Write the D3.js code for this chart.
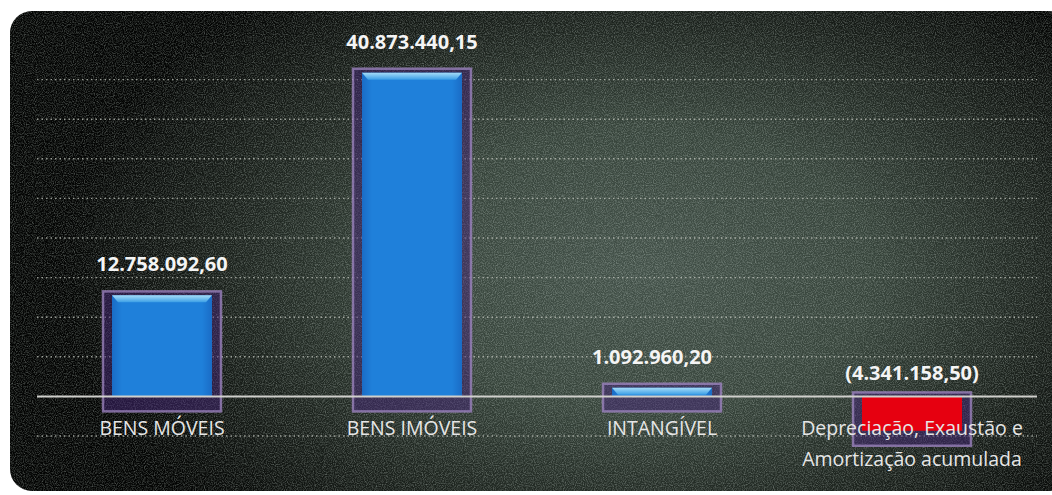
<!DOCTYPE html>
<html>
<head>
<meta charset="utf-8">
<script src="https://cdn.jsdelivr.net/npm/d3@7"></script>
<style>
  body { margin: 0; background: #fff; }
  text { font-family: "Open Sans", "Noto Sans", sans-serif; }
</style>
</head>
<body>
<div id="chart"></div>
<script>
// chart data
var categories = ["BENS MÓVEIS", "BENS IMÓVEIS", "INTANGÍVEL", "Depreciação, Exaustão e Amortização acumulada"];
var values = [12758092.60, 40873440.15, 1092960.20, -4341158.50];
var yTicks = [-5e6, 5e6, 10e6, 15e6, 20e6, 25e6, 30e6, 35e6, 40e6];

var width = 1052;
var height = 495;

var svg = d3.select("#chart")
    .append("svg")
    .attr("width", width)
    .attr("height", height);

var defs = svg.append("defs");

// background gradient, black at the edges, green-grey in the middle
var bg = defs.append("radialGradient")
    .attr("id", "bg")
    .attr("gradientUnits", "userSpaceOnUse")
    .attr("cx", 640).attr("cy", 270).attr("r", 580)
    .attr("gradientTransform", "translate(640,270) scale(1,0.62) translate(-640,-270)");
bg.append("stop").attr("offset", "0%").attr("stop-color", "#44524a");
bg.append("stop").attr("offset", "40%").attr("stop-color", "#37443b");
bg.append("stop").attr("offset", "72%").attr("stop-color", "#1a201b");
bg.append("stop").attr("offset", "100%").attr("stop-color", "#030403");

// grainy texture
var noise = defs.append("filter").attr("id", "noise")
    .attr("x", 0).attr("y", 0).attr("width", "100%").attr("height", "100%");
noise.append("feTurbulence")
    .attr("type", "fractalNoise")
    .attr("baseFrequency", 0.9)
    .attr("numOctaves", 2)
    .attr("seed", 3);
noise.append("feColorMatrix")
    .attr("type", "matrix")
    .attr("values", "0 0 0 0 0.68  0 0 0 0 0.78  0 0 0 0 0.72  0 0 0 1.3 -0.5");

var blue = defs.append("linearGradient").attr("id", "blue")
    .attr("x1", 0).attr("x2", 1).attr("y1", 0).attr("y2", 0);
blue.append("stop").attr("offset", "0%").attr("stop-color", "#1a6cc6");
blue.append("stop").attr("offset", "10%").attr("stop-color", "#1f80da");
blue.append("stop").attr("offset", "90%").attr("stop-color", "#1f80da");
blue.append("stop").attr("offset", "100%").attr("stop-color", "#1a6cc6");

var bevel = defs.append("linearGradient").attr("id", "bevel")
    .attr("x1", 0).attr("x2", 0).attr("y1", 0).attr("y2", 1);
bevel.append("stop").attr("offset", "0%").attr("stop-color", "#a6dcf7");
bevel.append("stop").attr("offset", "100%").attr("stop-color", "#3a9ee6");

defs.append("clipPath").attr("id", "panel")
    .append("rect")
    .attr("x", 10).attr("y", 11)
    .attr("width", 1060).attr("height", 480)
    .attr("rx", 22).attr("ry", 22);

svg.append("rect")
    .attr("x", 10).attr("y", 11)
    .attr("width", 1060).attr("height", 480)
    .attr("rx", 22).attr("ry", 22)
    .attr("fill", "url(#bg)");

svg.append("rect")
    .attr("x", 10).attr("y", 11)
    .attr("width", 1060).attr("height", 480)
    .attr("clip-path", "url(#panel)")
    .attr("filter", "url(#noise)")
    .attr("opacity", 0.55);

// scales
var x = d3.scaleBand()
    .domain(categories)
    .range([37, 1037])
    .paddingInner(0.6)
    .paddingOuter(0.3);

var y = d3.scaleLinear()
    .domain([-5e6, 45e6])
    .range([436, 40]);

// brazilian number format
var br = d3.formatLocale({ decimal: ",", thousands: ".", grouping: [3], currency: ["", ""] });
var fmt = br.format(",.2f");
function label(v) { return v < 0 ? "(" + fmt(-v) + ")" : fmt(v); }

// dotted gridlines
svg.append("g")
    .selectAll("line")
    .data(yTicks)
    .enter()
    .append("line")
    .attr("x1", 37).attr("x2", 1037)
    .attr("y1", function(d) { return y(d); })
    .attr("y2", function(d) { return y(d); })
    .attr("stroke", "#c4c8c0")
    .attr("stroke-width", 1.4)
    .attr("stroke-dasharray", "1.5,3")
    .attr("opacity", 0.75);

var bars = svg.append("g")
    .selectAll("g")
    .data(values)
    .enter()
    .append("g");

// translucent purple frame behind each bar
bars.append("rect")
    .attr("x", function(d, i) { return x(categories[i]) - 9; })
    .attr("width", x.bandwidth() + 18)
    .attr("y", function(d) { return Math.min(y(d), y(0)) - 4; })
    .attr("height", function(d) { return Math.abs(y(d) - y(0)) + 19; })
    .attr("fill", "rgba(70,40,120,0.5)")
    .attr("stroke", "rgba(160,135,195,0.75)")
    .attr("stroke-width", 2.5);

bars.append("rect")
    .attr("x", function(d, i) { return x(categories[i]); })
    .attr("width", x.bandwidth())
    .attr("y", function(d) { return Math.min(y(d), y(0)); })
    .attr("height", function(d) { return Math.abs(y(d) - y(0)); })
    .attr("fill", function(d) { return d < 0 ? "#e60010" : "url(#blue)"; });

// light bevel at the top of positive bars
bars.filter(function(d) { return d > 0; })
    .append("path")
    .attr("d", function(d) {
        var i = values.indexOf(d);
        var x0 = x(categories[i]), x1 = x0 + x.bandwidth();
        var t = y(d), b = Math.min(t + 7, y(0) - 1);
        return "M" + x0 + "," + t + "L" + x1 + "," + t + "L" + (x1 - 6) + "," + b + "L" + (x0 + 6) + "," + b + "Z";
    })
    .attr("fill", "url(#bevel)");

// zero line
svg.append("line")
    .attr("x1", 37).attr("x2", 1037)
    .attr("y1", y(0)).attr("y2", y(0))
    .attr("stroke", "#d0d0cc")
    .attr("stroke-width", 2);

// value labels
bars.append("text")
    .attr("x", function(d, i) { return x(categories[i]) + x.bandwidth() / 2 - (i == 2 ? 10 : 0); })
    .attr("y", function(d) { return d > 0 ? y(d) - 24 : y(0) - 16; })
    .attr("text-anchor", "middle")
    .attr("font-size", "20px")
    .attr("font-weight", "bold")
    .attr("fill", "#f4f4f4")
    .text(function(d) { return label(d); });

// category labels, wrapped to the band
var cat = svg.append("g")
    .selectAll("text")
    .data(categories)
    .enter()
    .append("text")
    .attr("x", function(d) { return x(d) + x.bandwidth() / 2; })
    .attr("y", 435)
    .attr("text-anchor", "middle")
    .attr("font-size", "19.5px")
    .attr("fill", "#e6e6e6");

cat.each(function(d) {
    var t = d3.select(this);
    var words = d.split(" ");
    var line = [];
    var tspan = t.append("tspan").attr("x", t.attr("x")).attr("dy", 0);
    words.forEach(function(w) {
        line.push(w);
        tspan.text(line.join(" "));
        if (tspan.node().getComputedTextLength() > 245 && line.length > 1) {
            line.pop();
            tspan.text(line.join(" "));
            line = [w];
            tspan = t.append("tspan").attr("x", t.attr("x")).attr("dy", 31).text(w);
        }
    });
});
</script>
</body>
</html>
